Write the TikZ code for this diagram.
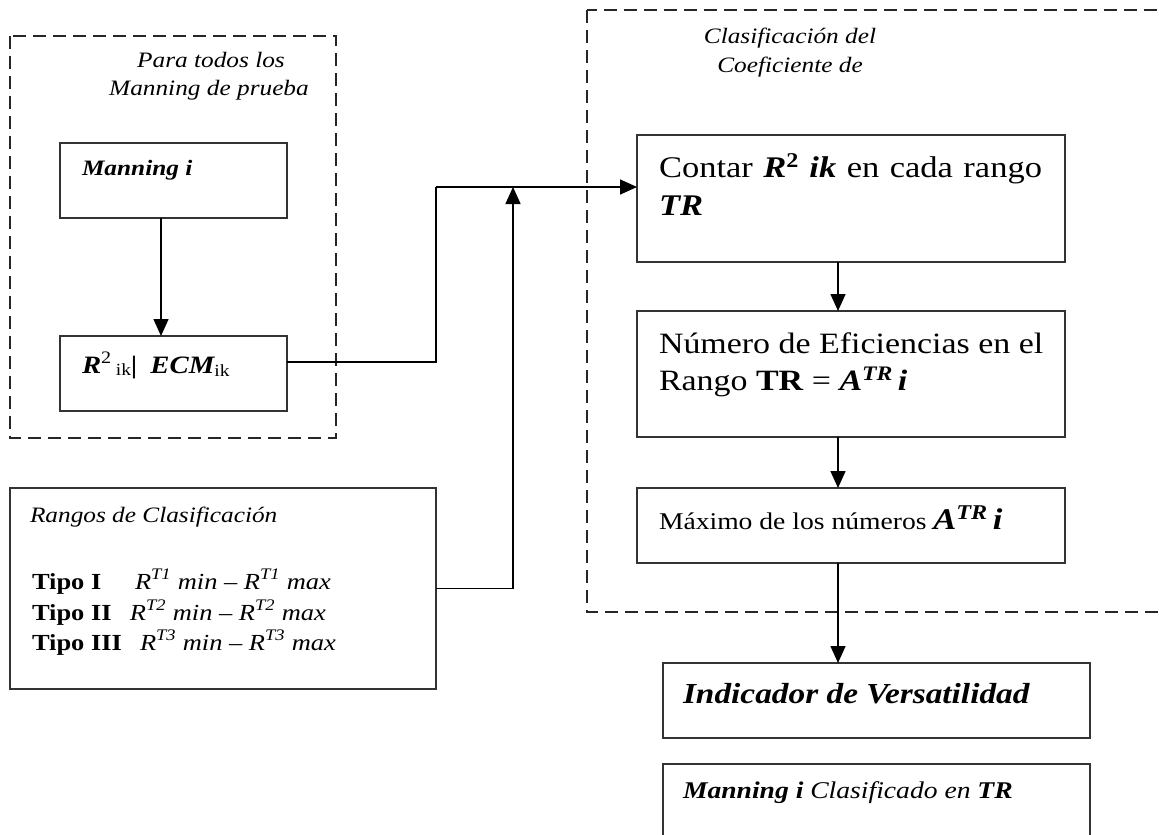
\documentclass[tikz,border=0pt]{standalone}
\usepackage{fontspec}
\setmainfont{Liberation Serif}[FakeStretch=1.15]
\usetikzlibrary{arrows.meta}
\newcommand\fsz[1]{\fontsize{#1}{#1}\selectfont}
\newcommand\bi[1]{{\bfseries\itshape #1}}
\tikzset{
  box/.style={draw=black!80, line width=1.6pt, inner sep=0pt, outer sep=0pt, anchor=north west},
  grp/.style={draw=black!85, line width=2pt, dash pattern=on 13pt off 7pt},
  wire/.style={draw=black, line width=1.5pt},
  arr/.style={wire, -{Triangle[length=17pt,width=15pt]}},
  txt/.style={inner sep=0pt, outer sep=0pt, anchor=base west},
  ctxt/.style={inner sep=0pt, outer sep=0pt, anchor=base},
}
\begin{document}
\begin{tikzpicture}[x=1pt,y=-1pt]
\useasboundingbox (0,0) rectangle (1159,835);
\clip (0,0) rectangle (1159,835);
% group frames
\draw[grp] (10,36) rectangle (336,438);
\draw[grp] (587,10) rectangle (1180,612);
% boxes
\node[box, minimum width=227pt, minimum height=75pt] (manning) at (60,143) {};
\node[box, minimum width=227pt, minimum height=75pt] (r2) at (60,336) {};
\node[box, minimum width=426pt, minimum height=201pt] (rangos) at (10,488) {};
\node[box, minimum width=428pt, minimum height=127pt] (contar) at (637,135) {};
\node[box, minimum width=428pt, minimum height=126pt] (numero) at (637,311) {};
\node[box, minimum width=428pt, minimum height=75pt] (maximo) at (637,488) {};
\node[box, minimum width=427pt, minimum height=75pt] (indicador) at (663,663) {};
\node[box, minimum width=427pt, minimum height=110pt] (clasif) at (663,764) {};
% junction points
\coordinate (j) at (436,187);
\coordinate (k) at (513,187);
% connectors
\draw[arr] ([xshift=-12.5pt]manning.south) -- ([xshift=-12.5pt]r2.north);
\draw[wire] ([yshift=11.5pt]r2.east) -| (j);
\draw[arr] (j) -- (j -| contar.west);
\draw[arr] (rangos.east) -| (k);
\draw[arr] ([xshift=-13pt]contar.south) -- ([xshift=-13pt]numero.north);
\draw[arr] ([xshift=-13pt]numero.south) -- ([xshift=-13pt]maximo.north);
\draw[arr] ([xshift=-13pt]maximo.south) -- ([xshift=-13pt]maximo.south |- indicador.north);
% texts left group
\node[ctxt] (pt1) at (211,67) {\fsz{22}\itshape Para todos los};
\node[ctxt] (pt2) at (209,95) {\fsz{22}\itshape Manning de prueba};
\node[txt] (mt) at (82,175) {\fsz{22}\bi{Manning i}};
\node[txt] (rt) at (82,373) {\fsz{25}\bi{R}\textsuperscript{2}\,\raisebox{-2pt}{\fsz{17}ik}\bi{|}\hspace{13pt}\bi{ECM}\raisebox{-3pt}{\fsz{17}ik}};
% rangos
\node[txt] (rg0) at (30,522) {\fsz{22}\itshape Rangos de Clasificación};
\node[txt] (rg1) at (32,589) {\fsz{23}\makebox[103pt][l]{\bfseries Tipo I}\itshape R\textsuperscript{T1} min -- R\textsuperscript{T1} max};
\node[txt] (rg2) at (32,620) {\fsz{23}\makebox[98pt][l]{\bfseries Tipo II}\itshape R\textsuperscript{T2} min -- R\textsuperscript{T2} max};
\node[txt] (rg3) at (32,650) {\fsz{23}\makebox[108pt][l]{\bfseries Tipo III}\itshape R\textsuperscript{T3} min -- R\textsuperscript{T3} max};
% right group
\node[ctxt] (ct1) at (790,43) {\fsz{22}\itshape Clasificación del};
\node[ctxt] (ct2) at (790,72) {\fsz{22}\itshape Coeficiente de};
\node[txt] (c1) at (659,177) {\fsz{30}\makebox[383pt][s]{Contar \bi{R}\textsuperscript{\bfseries 2} \bi{ik} en cada rango}};
\node[txt] (c2) at (659,215) {\fsz{30}\bi{TR}};
\node[txt] (n1) at (659,353) {\fsz{29.5}Número de Eficiencias en el};
\node[txt] (n2) at (659,390) {\fsz{29.5}Rango \textbf{TR} = \bi{A}\textsuperscript{\bi{TR}}\,\bi{i}};
\node[txt] (m1) at (659,529) {\fsz{24}Máximo de los números {\fsz{30}\bi{A}\textsuperscript{\bi{TR}}\,\bi{i}}};
\node[txt] (i1) at (683,703) {\fsz{29}\bi{Indicador de Versatilidad}};
\node[txt] (k1) at (683,798) {\fsz{24}\bi{Manning i} \textit{Clasificado en} \bi{TR}};
\end{tikzpicture}
\end{document}
